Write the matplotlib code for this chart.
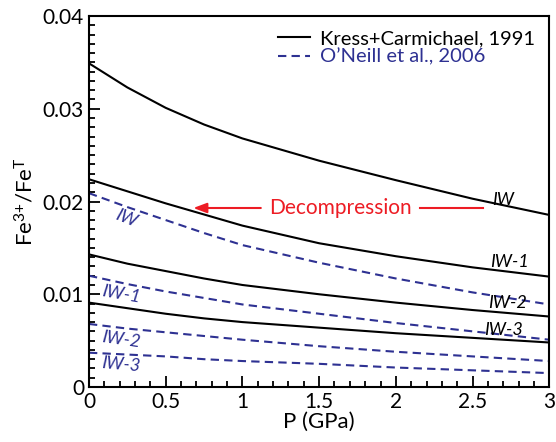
import numpy as np
import matplotlib
matplotlib.use("Agg")
import matplotlib.pyplot as plt
from matplotlib.ticker import MultipleLocator

plt.rcParams['font.family'] = ['Lato', 'DejaVu Sans']
plt.rcParams['mathtext.fontset'] = 'custom'
plt.rcParams['mathtext.rm'] = 'Lato'
plt.rcParams['mathtext.it'] = 'Lato:italic'

# pressure (GPa)
P = [0, 0.25, 0.5, 0.75, 1, 1.5, 2, 2.5, 3]

# Kress+Carmichael, 1991 (solid)
kc_iw = [0.0349, 0.0323, 0.0301, 0.0283, 0.0268, 0.0244, 0.0223, 0.0203, 0.01855]
kc_iw1 = [0.0224, 0.0211, 0.0198, 0.0186, 0.0174, 0.0155, 0.0141, 0.0129, 0.0119]
kc_iw2 = [0.0143, 0.0133, 0.0125, 0.0117, 0.0110, 0.0100, 0.0091, 0.0083, 0.0076]
kc_iw3 = [0.0091, 0.0085, 0.0079, 0.0074, 0.0070, 0.0064, 0.0058, 0.0053, 0.0048]

# O'Neill et al., 2006 (dashed)
on_iw = [0.0209, 0.0194, 0.0180, 0.0166, 0.0153, 0.0134, 0.0117, 0.0102, 0.0089]
on_iw1 = [0.0120, 0.0111, 0.0103, 0.0096, 0.0089, 0.0079, 0.0069, 0.0060, 0.0051]
on_iw2 = [0.0068, 0.0063, 0.0059, 0.0055, 0.0051, 0.0044, 0.0038, 0.0033, 0.0028]
on_iw3 = [0.0037, 0.0035, 0.0033, 0.0030, 0.0028, 0.0025, 0.0021, 0.0018, 0.0015]

kc_labels = ['IW', 'IW-1', 'IW-2', 'IW-3']
on_labels = ['IW', 'IW-1', 'IW-2', 'IW-3']

blue = '#2e3192'
red = '#ed1c24'

fig = plt.figure(figsize=(5.56, 4.42), dpi=100)
ax = fig.add_axes([0.160, 0.1244, 0.828, 0.8394])

for i, y in enumerate([kc_iw, kc_iw1, kc_iw2, kc_iw3]):
    ax.plot(P, y, color='black', lw=1.5,
            label='Kress+Carmichael, 1991' if i == 0 else None)
for i, y in enumerate([on_iw, on_iw1, on_iw2, on_iw3]):
    ax.plot(P, y, color=blue, lw=1.5, ls=(0, (4, 2.5)),
            label="O\u2019Neill et al., 2006" if i == 0 else None)

# curve labels
for lab, (x, y) in zip(kc_labels, [(2.70, 0.0202), (2.74, 0.01348), (2.73, 0.00906), (2.70, 0.00615)]):
    ax.text(x, y, lab, style='italic', fontsize=13, ha='center', va='center')
for lab, (x, y, r) in zip(on_labels, [(0.24, 0.0182, -22), (0.21, 0.0100, -10),
                                     (0.21, 0.00507, -8), (0.21, 0.00237, -5)]):
    ax.text(x, y, lab, style='italic', fontsize=13, ha='center', va='center',
            color=blue, rotation=r)

# decompression arrow
ya = 0.0193
ax.annotate('', xy=(0.68, ya), xytext=(1.12, ya),
            arrowprops=dict(arrowstyle='-|>,head_length=0.8,head_width=0.3',
                            color=red, lw=1.5, shrinkA=0, shrinkB=0))
ax.text(1.64, ya, 'Decompression', color=red, fontsize=15, ha='center', va='center')
ax.plot([2.16, 2.57], [ya, ya], color=red, lw=1.5)

ax.set_xlim(0, 3)
ax.set_ylim(0, 0.04)
ax.set_xticks([0, 0.5, 1, 1.5, 2, 2.5, 3])
ax.set_xticklabels(['0', '0.5', '1', '1.5', '2', '2.5', '3'])
ax.set_yticks([0, 0.01, 0.02, 0.03, 0.04])
ax.set_yticklabels(['0', '0.01', '0.02', '0.03', '0.04'])
ax.xaxis.set_minor_locator(MultipleLocator(0.1))
ax.yaxis.set_minor_locator(MultipleLocator(0.001))
ax.tick_params(which='both', direction='in', labelsize=15, width=1.3)
ax.tick_params(which='major', length=8)
ax.tick_params(which='minor', length=4)
for s in ax.spines.values():
    s.set_linewidth(1.5)

ax.set_xlabel('P (GPa)', fontsize=16, labelpad=0)
ax.set_ylabel(r'Fe$^{3{+}}$/Fe$^{\mathrm{T}}$', fontsize=16, labelpad=4)

leg = ax.legend(loc='upper right', frameon=False, fontsize=14.5, handlelength=1.6,
                handletextpad=0.5, labelspacing=0.05, borderaxespad=0.3,
                labelcolor='linecolor')

fig.savefig('out.png', dpi=100)
